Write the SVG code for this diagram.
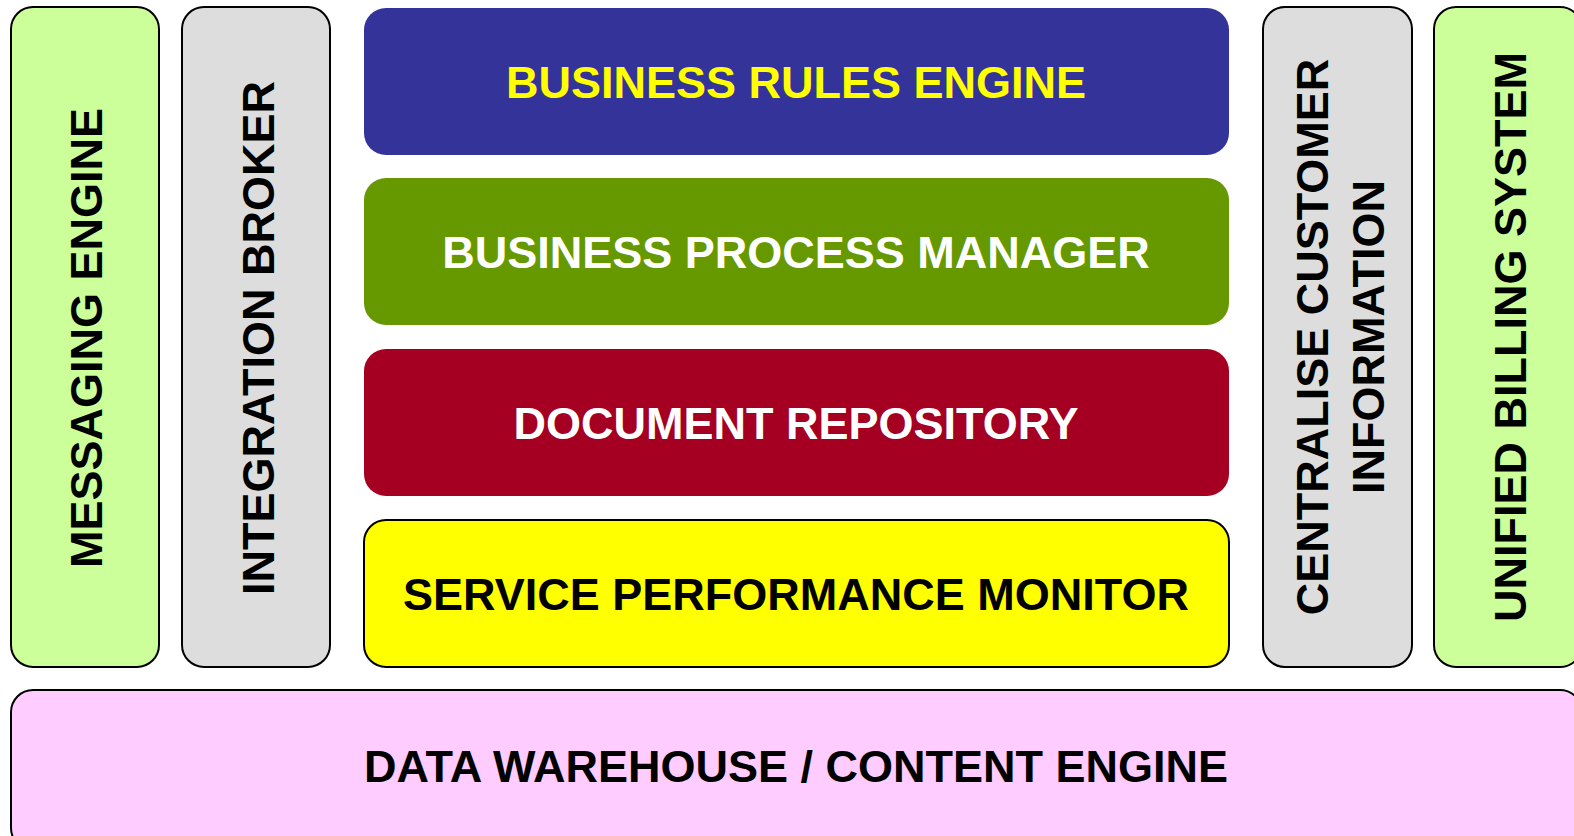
<svg xmlns="http://www.w3.org/2000/svg" width="1574" height="836" viewBox="0 0 1574 836">
<style>
.t{font-family:"Liberation Sans",Arial,sans-serif;font-weight:bold;font-size:45px;text-anchor:middle;dominant-baseline:central}
.s{stroke:#000;stroke-width:2}
</style>
<rect width="1574" height="836" fill="#fff"/>
<g id="messaging"><rect class="s" x="11" y="7" width="148" height="660" rx="22" fill="#ccff99"/><text class="t" transform="translate(86,338) rotate(-90)" fill="#000">MESSAGING ENGINE</text></g>
<g id="integration"><rect class="s" x="182" y="7" width="148" height="660" rx="22" fill="#dddddd"/><text class="t" transform="translate(258,338) rotate(-90)" fill="#000">INTEGRATION BROKER</text></g>
<g id="rules"><rect x="364" y="8" width="865" height="147" rx="22" fill="#333399"/><text class="t" x="796" y="82" fill="#ffff00">BUSINESS RULES ENGINE</text></g>
<g id="process"><rect x="364" y="178" width="865" height="147" rx="22" fill="#669900"/><text class="t" x="796" y="252" fill="#ffffff">BUSINESS PROCESS MANAGER</text></g>
<g id="repository"><rect x="364" y="349" width="865" height="147" rx="22" fill="#a50021"/><text class="t" x="796" y="423" fill="#ffffff">DOCUMENT REPOSITORY</text></g>
<g id="monitor"><rect class="s" x="364" y="520" width="865" height="147" rx="22" fill="#ffff00"/><text class="t" x="796" y="594" fill="#000">SERVICE PERFORMANCE MONITOR</text></g>
<g id="customer"><rect class="s" x="1263" y="7" width="149" height="660" rx="22" fill="#dddddd"/><text class="t" transform="translate(1340,337) rotate(-90)" fill="#000"><tspan x="0" dy="-28">CENTRALISE CUSTOMER</tspan><tspan x="0" dy="56">INFORMATION</tspan></text></g>
<g id="billing"><rect class="s" x="1434" y="7" width="148" height="660" rx="22" fill="#ccff99"/><text class="t" transform="translate(1510,337) rotate(-90)" fill="#000">UNIFIED BILLING SYSTEM</text></g>
<g id="warehouse"><rect class="s" x="11" y="690" width="1571" height="160" rx="22" fill="#ffccff"/><text class="t" x="796" y="766" fill="#000">DATA WAREHOUSE / CONTENT ENGINE</text></g>
<g id="connectors"/>
</svg>
